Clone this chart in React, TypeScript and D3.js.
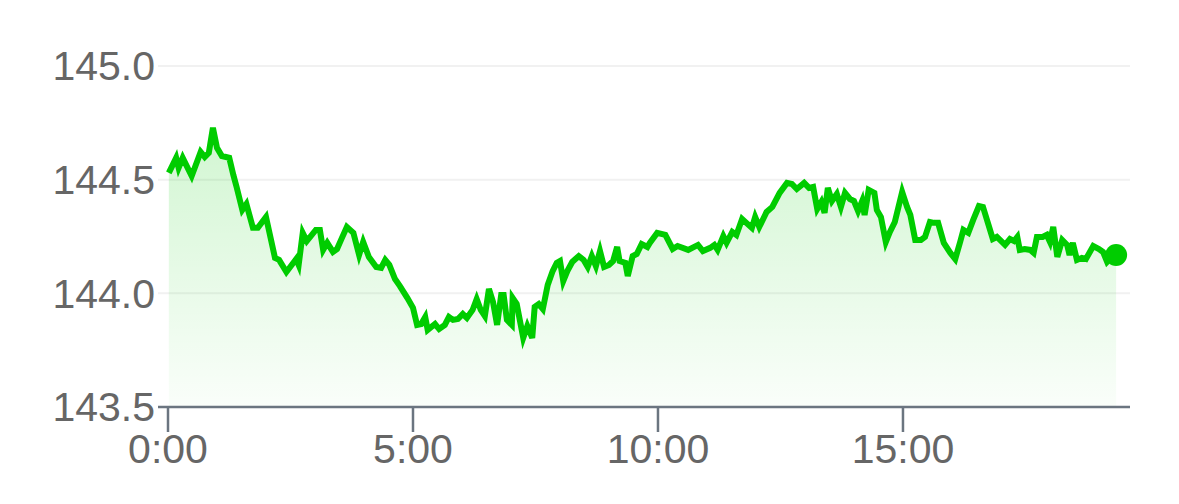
import React from "react";
import * as d3 from "d3";

// minutes since 0:00
const minutes = [
  1, 10, 13, 18, 29, 40, 45, 50, 55, 60, 66, 75, 80, 84, 91, 96, 104, 110, 120, 131,
  136, 145, 157, 160, 165, 170, 181, 186, 190, 195, 202, 207, 213, 219, 227, 234, 239, 246, 255, 261,
  266, 271, 278, 284, 293, 300, 305, 310, 315, 318, 327, 332, 339, 344, 349, 355, 361, 366, 373, 378,
  383, 388, 393, 398, 403, 408, 411, 415, 421, 422, 427, 435, 440, 446, 449, 454, 459, 465, 471, 476,
  480, 484, 489, 495, 503, 509, 514, 519, 524, 529, 534, 540, 545, 550, 553, 560, 563, 569, 574, 580,
  587, 590, 599, 609, 618, 624, 637, 649, 655, 664, 669, 673, 680, 684, 691, 696, 703, 715, 719, 724,
  733, 740, 749, 758, 764, 770, 779, 785, 790, 795, 800, 804, 808, 813, 819, 824, 829, 835, 840, 845,
  850, 853, 858, 865, 868, 873, 879, 884, 890, 899, 905, 909, 915, 922, 927, 933, 938, 943, 950, 958,
  964, 970, 974, 980, 986, 993, 998, 1010, 1015, 1025, 1031, 1036, 1040, 1043, 1049, 1056, 1060, 1064, 1071, 1076,
  1080, 1084, 1089, 1095, 1101, 1104, 1108, 1113, 1119, 1124, 1133, 1140, 1145, 1150, 1156, 1161,
];

const prices = [
  144.53, 144.596, 144.552, 144.596, 144.516, 144.622, 144.6, 144.618, 144.728, 144.64, 144.604, 144.596, 144.521, 144.468, 144.367, 144.393, 144.288, 144.288, 144.336, 144.156,
  144.147, 144.094, 144.151, 144.125, 144.266, 144.23, 144.279, 144.279, 144.191, 144.222, 144.182, 144.195, 144.244, 144.292, 144.266, 144.169, 144.226, 144.16, 144.116, 144.112,
  144.147, 144.125, 144.063, 144.032, 143.98, 143.936, 143.861, 143.865, 143.896, 143.839, 143.865, 143.843, 143.861, 143.896, 143.883, 143.887, 143.909, 143.892, 143.927, 143.975,
  143.927, 143.9, 144.019, 143.962, 143.861, 143.993, 143.993, 143.883, 143.861, 143.98, 143.953, 143.804, 143.856, 143.804, 143.94, 143.953, 143.931, 144.037, 144.098, 144.134,
  144.142, 144.054, 144.098, 144.138, 144.164, 144.147, 144.116, 144.164, 144.12, 144.186, 144.116, 144.125, 144.142, 144.204, 144.142, 144.134, 144.076, 144.164, 144.173, 144.217,
  144.204, 144.222, 144.266, 144.257, 144.195, 144.208, 144.191, 144.213, 144.186, 144.2, 144.213, 144.191, 144.252, 144.222, 144.27, 144.257, 144.327, 144.288, 144.336, 144.292,
  144.358, 144.38, 144.442, 144.486, 144.481, 144.459, 144.486, 144.464, 144.468, 144.371, 144.402, 144.354, 144.464, 144.406, 144.437, 144.38, 144.442, 144.415, 144.406, 144.362,
  144.406, 144.345, 144.455, 144.442, 144.367, 144.336, 144.226, 144.27, 144.314, 144.446, 144.38, 144.345, 144.235, 144.235, 144.248, 144.314, 144.31, 144.31, 144.222, 144.178,
  144.151, 144.226, 144.279, 144.266, 144.323, 144.384, 144.38, 144.239, 144.248, 144.213, 144.239, 144.23, 144.248, 144.191, 144.195, 144.191, 144.178, 144.248, 144.248, 144.257,
  144.226, 144.292, 144.16, 144.235, 144.213, 144.169, 144.222, 144.147, 144.156, 144.151, 144.208, 144.195, 144.182, 144.138, 144.16, 144.169,
];

const yTicks = [143.5, 144.0, 144.5, 145.0];
const xTicks = [0, 300, 600, 900];
const xTickLabels = ["0:00", "5:00", "10:00", "15:00"];

const W = 1179;
const H = 504;
const GREEN = "#00cc00";
const FONT = "'Liberation Sans', Arial, sans-serif";

export default function App() {
  const data = minutes.map((m, i) => ({ m, v: prices[i] }));
  const x = d3.scaleLinear().domain([0, 1178]).range([168, 1130]);
  const y = d3.scaleLinear().domain([143.5, 145.0]).range([407, 66]);

  const line = d3
    .line<{ m: number; v: number }>()
    .x((d) => x(d.m))
    .y((d) => y(d.v));
  const area = d3
    .area<{ m: number; v: number }>()
    .x((d) => x(d.m))
    .y0(y(143.5))
    .y1((d) => y(d.v));

  const last = data[data.length - 1];
  const maxV = d3.max(prices) as number;

  return (
    <svg
      width={W}
      height={H}
      style={{ position: "absolute", left: 0, top: 0, background: "#fff" }}
    >
      <defs>
        <linearGradient
          id="fillGrad"
          gradientUnits="userSpaceOnUse"
          x1="0"
          x2="0"
          y1={y(maxV)}
          y2={y(143.5)}
        >
          <stop offset="0%" stopColor={GREEN} stopOpacity={0.18} />
          <stop offset="100%" stopColor={GREEN} stopOpacity={0.02} />
        </linearGradient>
      </defs>

      {yTicks
        .filter((t) => t !== 143.5)
        .map((t) => (
          <line
            key={"g" + t}
            x1={158}
            x2={1130}
            y1={y(t)}
            y2={y(t)}
            stroke="#f1f1f1"
            strokeWidth={2}
          />
        ))}

      <path d={area(data) || ""} fill="url(#fillGrad)" />

      <line x1={158} x2={1130} y1={y(143.5)} y2={y(143.5)} stroke="#6b7580" strokeWidth={2.5} />

      {xTicks.map((t, i) => (
        <g key={"x" + t}>
          <line
            x1={x(t)}
            x2={x(t)}
            y1={y(143.5)}
            y2={y(143.5) + 25}
            stroke="#6b7580"
            strokeWidth={2.5}
          />
          <text
            x={x(t)}
            y={463}
            textAnchor="middle"
            fontFamily={FONT}
            fontSize={41}
            fill="#666"
          >
            {xTickLabels[i]}
          </text>
        </g>
      ))}

      {yTicks.map((t) => (
        <text
          key={"y" + t}
          x={155}
          y={y(t)}
          dy="0.35em"
          textAnchor="end"
          fontFamily={FONT}
          fontSize={41}
          fill="#666"
        >
          {t.toFixed(1)}
        </text>
      ))}

      <path
        d={line(data) || ""}
        fill="none"
        stroke={GREEN}
        strokeWidth={6}
        strokeLinejoin="miter"
        strokeLinecap="butt"
      />
      <circle cx={x(last.m)} cy={y(last.v)} r={11} fill={GREEN} />
    </svg>
  );
}
